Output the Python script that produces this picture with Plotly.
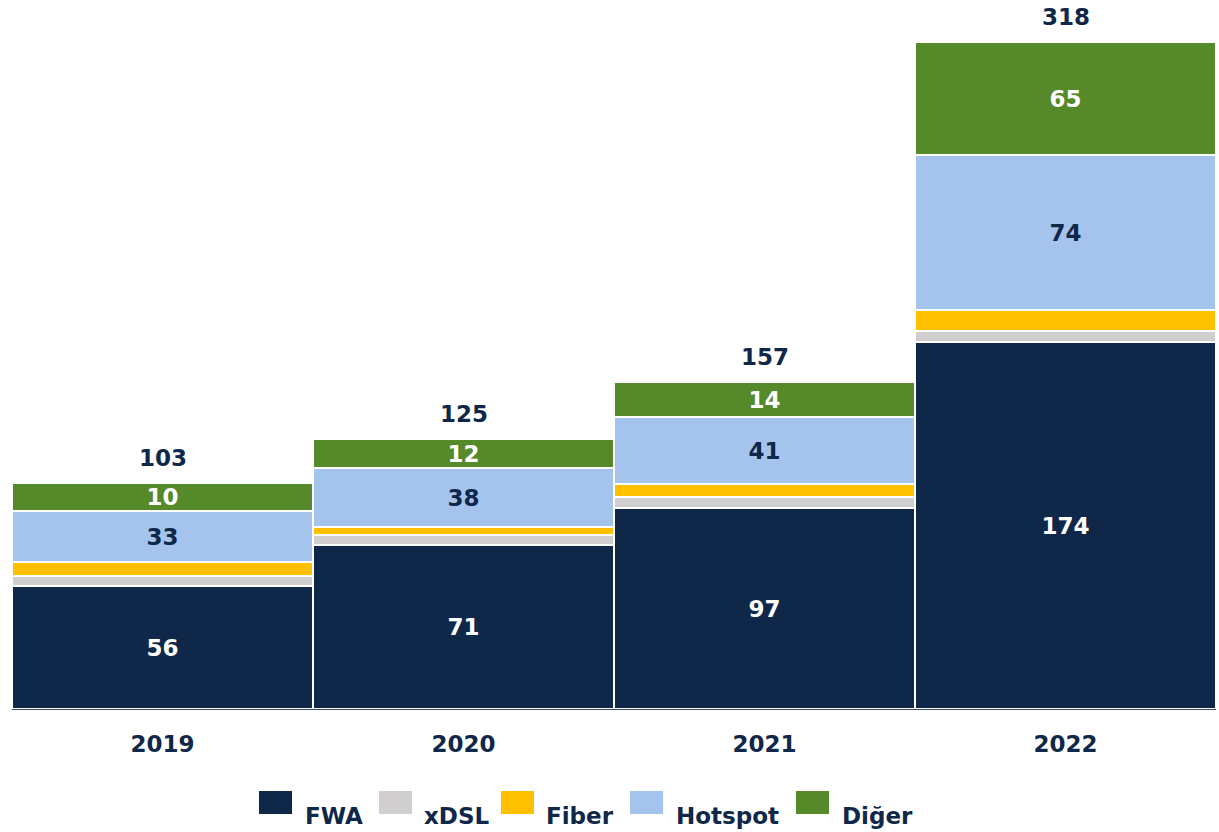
import plotly.graph_objects as go

years = ["2019", "2020", "2021", "2022"]
series_names = ["FWA", "xDSL", "Fiber", "Hotspot", "Diğer"]
fwa = [58.5, 77.9, 95.7, 174.8]
xdsl = [4.9, 5.0, 5.1, 5.3]
fiber = [6.7, 4.0, 6.2, 9.8]
hotspot = [24.4, 28.0, 32.0, 73.8]
diger = [13.3, 13.7, 16.7, 54.0]
fwa_labels = ["56", "71", "97", "174"]
hotspot_labels = ["33", "38", "41", "74"]
diger_labels = ["10", "12", "14", "65"]
total_labels = ["103", "125", "157", "318"]

colors = ["#0F2748", "#D0CECE", "#FFC000", "#A4C4EE", "#568929"]
values = [fwa, xdsl, fiber, hotspot, diger]
labels = [fwa_labels, None, None, hotspot_labels, diger_labels]
label_colors = ["#FFFFFF", None, None, "#0F2748", "#FFFFFF"]

NAVY = "#0F2748"
FONT = "DejaVu Sans"

fig = go.Figure()
for name, vals, col, lab, lcol in zip(series_names, values, colors, labels, label_colors):
    kw = {}
    if lab is not None:
        kw = dict(text=lab, textposition="inside", insidetextanchor="middle",
                  textangle=0, constraintext="none",
                  textfont=dict(family=FONT, size=23, color=lcol, weight="bold"))
    fig.add_trace(go.Bar(x=years, y=vals, name=name, marker_color=col,
                         marker_line=dict(color="#FFFFFF", width=2),
                         showlegend=False, hoverinfo="skip", **kw))

totals = [sum(v) for v in zip(*values)]
for i, (tot, tl) in enumerate(zip(totals, total_labels)):
    fig.add_annotation(x=i, y=tot, text=tl, showarrow=False, yanchor="bottom",
                       yshift=10, font=dict(family=FONT, size=23, color=NAVY, weight="bold"))

# plot area in pixels
L, R, T, B = 12, 1216, 5, 709
W, H = R - L, B - T

def px(x):
    return (x - L) / W

def py(y):
    return (B - y) / H

legend_pos = [(259, 303), (379, 422), (501, 544), (630, 674), (796, 840)]
for name, col, (sq, tx) in zip(series_names, colors, legend_pos):
    fig.add_shape(type="rect", xref="paper", yref="paper",
                  x0=px(sq), x1=px(sq + 33), y0=py(814), y1=py(791),
                  fillcolor=col, line_width=0)
    fig.add_annotation(xref="paper", yref="paper", x=px(tx), y=py(816),
                       xanchor="left", yanchor="middle", text=name, showarrow=False,
                       font=dict(family=FONT, size=23, color=NAVY, weight="bold"))

fig.update_layout(
    width=1219, height=832,
    margin=dict(l=L, r=1219 - R, t=T, b=832 - B, autoexpand=False),
    barmode="stack", bargap=0,
    plot_bgcolor="#FFFFFF", paper_bgcolor="#FFFFFF",
    showlegend=False,
    uniformtext=dict(mode=False),
)
fig.update_xaxes(type="category", automargin=False, range=[-0.5, 3.5],
                 showline=True, linecolor="#3A4A66", linewidth=1,
                 ticks="outside", ticklen=14, tickcolor="rgba(0,0,0,0)",
                 tickfont=dict(family=FONT, size=23, color=NAVY, weight="bold"),
                 showgrid=False)
fig.update_yaxes(range=[0, H / 2.1], visible=False, showgrid=False, automargin=False)

fig.write_html("out.html", config={"displayModeBar": False},
               post_script="document.body.style.margin='0';document.body.style.padding='0';")
